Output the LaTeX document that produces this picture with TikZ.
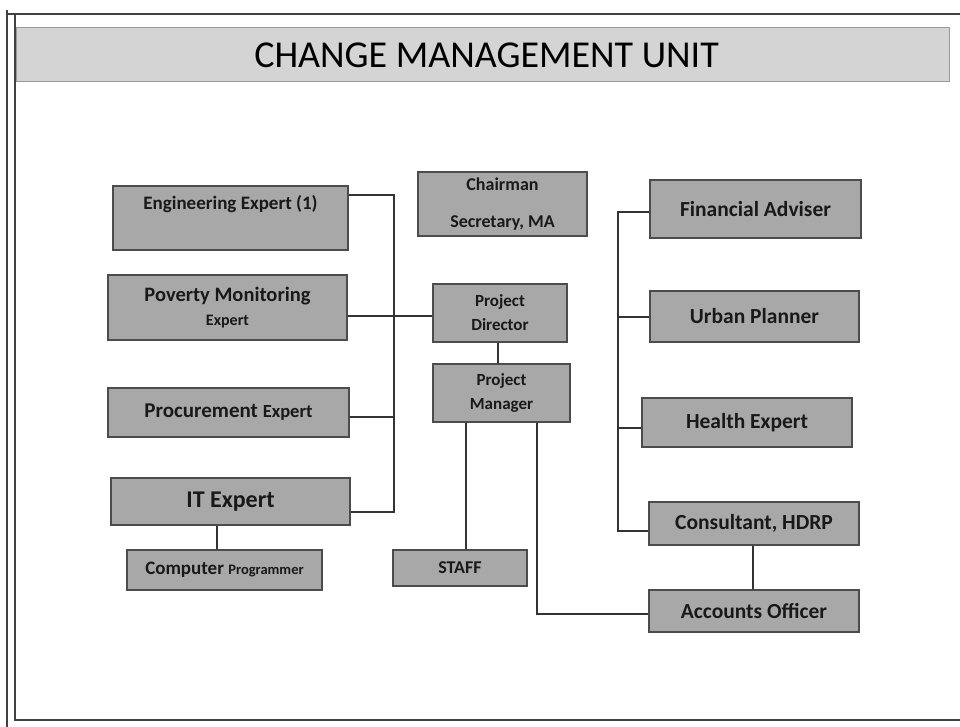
\documentclass[tikz,border=0pt]{standalone}
\usepackage{fontspec}
\setmainfont{Carlito}
\newcommand\uptext[2]{\smash{\raisebox{#1}{#2}}}
\newcommand\fs[2]{\fontsize{#1}{#2}\selectfont}
\begin{document}
\begin{tikzpicture}[x=1pt,y=-1pt,
  box/.style={draw=black!70, fill=black!34, line width=1.3pt, inner sep=0pt,
    font=\bfseries, text=black!90, align=center},
  conn/.style={draw=black!80, line width=1.4pt},
  frame/.style={draw=black!75, line width=1.6pt}]
\useasboundingbox (0,0) rectangle (960,727);
% frame
\draw[frame] (7,10) -- (7,727);
\draw[frame] (7,14) -- (960,14);
\draw[frame, line width=1.2pt] (15,14) -- (15,720) -- (960,720);
% title bar
\node[draw=black!40, fill=black!17, line width=1pt, minimum width=933, minimum height=54,
  inner sep=0pt, font=\fs{38}{42}, text=black] (title) at (482.5,55)
  {\hspace{8pt}CHANGE MANAGEMENT UNIT};
% left column
\node[box, minimum width=235, minimum height=64, font=\bfseries\fs{19}{22}] (EE) at (230.5,218)
  {\uptext{8.5pt}{Engineering Expert (1)}};
\node[box, minimum width=239, minimum height=65, font=\bfseries\fs{20.5}{24.5}] (PV) at (227.5,307.5)
  {Poverty Monitoring\\{\fs{16}{24.5}Expert}};
\node[box, minimum width=241, minimum height=49, font=\bfseries\fs{21}{24}] (PE) at (228.5,412.5)
  {Procurement {\fs{18.5}{24}Expert}};
\node[box, minimum width=239, minimum height=47, font=\bfseries\fs{24}{28}] (IT) at (230.5,501.5)
  {IT Expert};
\node[box, minimum width=195, minimum height=40, font=\bfseries\fs{19}{22}] (CP) at (224.5,570)
  {Computer {\fs{14.5}{22}Programmer}};
% centre column
\node[box, minimum width=169, minimum height=64, font=\bfseries\fs{18}{22}] (CH) at (502.5,204)
  {Chairman\\[15pt]Secretary, MA};
\node[box, minimum width=134, minimum height=58, font=\bfseries\fs{17}{24}] (PD) at (500,313)
  {Project\\Director};
\node[box, minimum width=137, minimum height=58, font=\bfseries\fs{17}{24}] (PM) at (501.5,393)
  {Project\\Manager};
\node[box, minimum width=134, minimum height=36, font=\bfseries\fs{18}{22}] (ST) at (460,568)
  {STAFF};
% right column
\node[box, minimum width=211, minimum height=58, font=\bfseries\fs{21.5}{25}] (FA) at (755.5,209)
  {Financial Adviser};
\node[box, minimum width=209, minimum height=51, font=\bfseries\fs{21.5}{25}] (UP) at (754.5,316.5)
  {Urban Planner};
\node[box, minimum width=210, minimum height=49, font=\bfseries\fs{21.5}{25}] (HE) at (747,422.5)
  {Health Expert};
\node[box, minimum width=210, minimum height=43, font=\bfseries\fs{21.5}{25}] (CO) at (754,523.5)
  {Consultant, HDRP};
\node[box, minimum width=210, minimum height=42, font=\bfseries\fs{21.5}{25}] (AO) at (754,611)
  {Accounts Officer};
% bus coordinates
\coordinate (lbT) at (394,195);
\coordinate (lbB) at (394,512);
\coordinate (pvy) at (394,316);
\coordinate (rbT) at (618,212);
\coordinate (rbB) at (618,531);
\coordinate (stx) at (466,422);
\coordinate (aox) at (537,614);
\coordinate (cpx) at (217,540);
% connectors
\draw[conn] (EE.east |- lbT) -- (lbT) -- (lbB) -- (IT.east |- lbB);
\draw[conn] (PE.east |- 0,417) -- (lbT |- 0,417);
\draw[conn] (PV.east |- pvy) -- (PD.west |- pvy);
\draw[conn] (IT.south -| cpx) -- (CP.north -| cpx);
\draw[conn] (PD.south -| 498,0) -- (PM.north -| 498,0);
\draw[conn] (PM.south -| stx) -- (ST.north -| stx);
\draw[conn] (PM.south -| aox) -- (aox) -- (AO.west |- aox);
\draw[conn] (FA.west |- rbT) -- (rbT) -- (rbB) -- (CO.west |- rbB);
\draw[conn] (UP.west |- 0,317) -- (rbT |- 0,317);
\draw[conn] (HE.west |- 0,428) -- (rbT |- 0,428);
\draw[conn] (CO.south -| 753,0) -- (AO.north -| 753,0);
\end{tikzpicture}
\end{document}
